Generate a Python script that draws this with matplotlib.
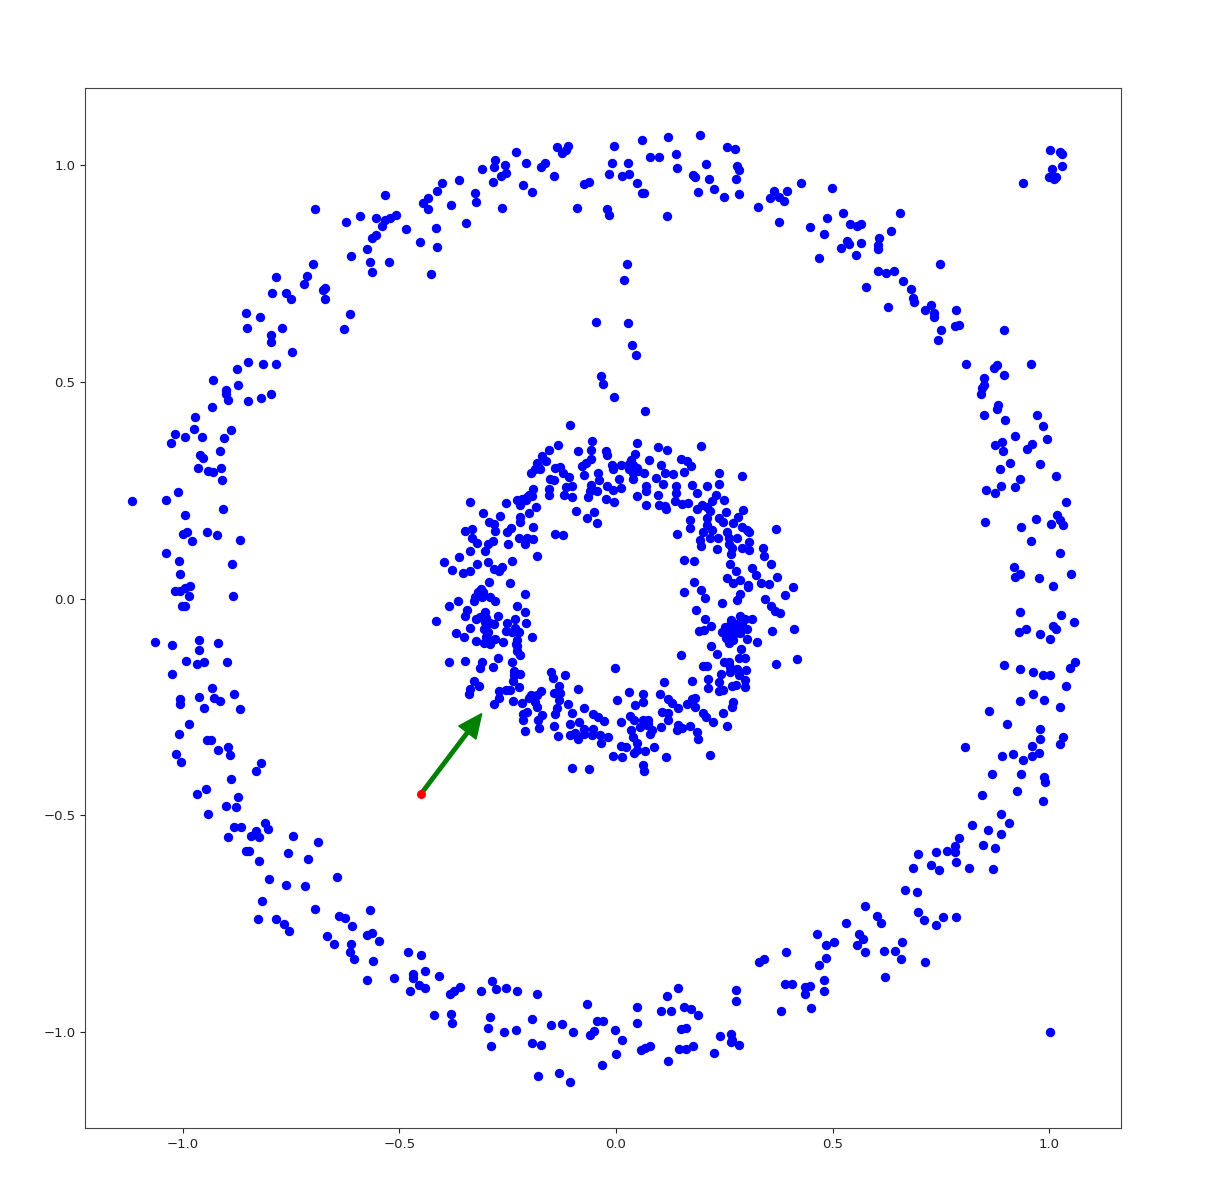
import matplotlib
matplotlib.use("Agg")
import matplotlib.pyplot as plt

outer_upper_left_x = [-1.118,-1.040,-1.011,-0.994,-0.908,-1.000,-0.991,-0.980,-0.944,-0.921,-0.867,-1.038,-1.008,-0.886,-1.007,-0.983,-1.018,-1.007,-0.995,-0.986,-0.885,-1.027,-1.018,-0.995,-0.975,-0.956,-0.971,-0.905,-0.888,-0.914,-0.961,-0.954,-0.964,-0.943,-0.930,-0.911,-0.909,-0.932,-0.895,-0.901,-0.901,-0.850,-0.820,-0.797,-0.930,-0.873,-0.874,-0.850,-0.814,-0.784,-0.747,-0.797,-0.796,-0.770,-0.853,-0.854,-0.823,-0.629,-0.613,-0.794,-0.761,-0.751,-0.786,-0.720,-0.713,-0.700,-0.673,-0.676,-0.672,-0.695,-0.624,-0.590,-0.553,-0.534,-0.533,-0.522,-0.509,-0.540,-0.564,-0.554,-0.576,-0.612,-0.567,-0.564,-0.524,-0.484,-0.453,-0.414,-0.416,-0.427,-0.445,-0.435,-0.433,-0.413,-0.402,-0.382,-0.363,-0.347,-0.325,-0.324,-0.309,-0.285,-0.281,-0.280,-0.264,-0.265,-0.253,-0.257,-0.232,-0.215,-0.207,-0.194,-0.174,-0.163,-0.144,-0.137,-0.125,-0.116,-0.110,-0.090,-0.074,-0.063,-0.021,-0.015,-0.015,-0.009,-0.004,-0.046,-0.035,-0.031,-0.004]
outer_upper_left_y = [0.226,0.227,0.246,0.194,0.208,0.150,0.154,0.132,0.153,0.147,0.136,0.106,0.086,0.079,0.057,0.030,0.017,0.017,0.025,0.007,0.006,0.358,0.379,0.374,0.391,0.374,0.418,0.371,0.388,0.341,0.331,0.325,0.302,0.294,0.293,0.301,0.273,0.442,0.459,0.472,0.482,0.456,0.462,0.471,0.504,0.494,0.529,0.546,0.541,0.541,0.570,0.591,0.608,0.625,0.625,0.658,0.649,0.623,0.657,0.705,0.704,0.692,0.741,0.726,0.744,0.772,0.691,0.712,0.717,0.900,0.869,0.882,0.879,0.932,0.873,0.877,0.886,0.859,0.833,0.838,0.807,0.791,0.777,0.753,0.776,0.853,0.822,0.811,0.856,0.750,0.912,0.925,0.900,0.940,0.959,0.909,0.965,0.867,0.935,0.915,0.992,0.962,0.995,1.013,0.902,0.974,0.982,1.000,1.030,0.955,1.006,0.938,0.995,1.004,0.975,1.042,1.029,1.035,1.045,0.902,0.956,0.961,0.900,0.885,0.980,1.005,1.045,0.639,0.514,0.496,0.466]

outer_upper_right_x = [0.060,0.119,0.194,0.256,0.275,0.028,0.078,0.099,0.139,0.141,0.208,0.015,0.029,0.048,0.059,0.065,0.178,0.182,0.214,0.279,0.283,0.278,0.189,0.227,0.250,0.283,0.117,0.329,0.356,0.365,0.376,0.389,0.395,0.427,0.377,0.498,0.447,0.487,0.481,0.524,0.541,0.557,0.565,0.469,0.520,0.534,0.539,0.565,0.555,0.608,0.605,0.604,0.634,0.655,0.605,0.624,0.641,0.662,0.748,0.578,0.682,0.686,0.688,0.628,0.714,0.728,0.734,0.734,0.786,0.782,0.792,0.751,0.744,0.896,0.808,0.959,0.873,0.879,0.896,0.850,0.850,0.845,0.842,0.882,0.879,0.850,0.898,0.971,0.986,0.921,0.996,0.875,0.892,0.894,0.948,0.960,0.909,0.980,0.886,0.932,1.016,0.890,0.922,0.855,0.876,1.040,0.852,0.969,0.936,1.019,1.026,1.031,1.004,0.959,1.026,0.920,0.933,0.921,0.976,1.050,1.009,1.003,1.025,1.030,1.029,1.006,1.000,1.011,1.017,0.939,0.025,0.018,0.028,0.038,0.047,0.066]
outer_upper_right_y = [1.059,1.064,1.069,1.042,1.038,1.004,1.019,1.018,1.025,0.994,1.003,0.974,0.979,0.958,0.935,0.935,0.977,0.972,0.968,0.999,0.990,0.968,0.938,0.946,0.926,0.933,0.882,0.903,0.924,0.941,0.927,0.918,0.941,0.960,0.869,0.947,0.858,0.879,0.842,0.889,0.865,0.859,0.864,0.785,0.808,0.825,0.818,0.821,0.792,0.833,0.815,0.807,0.849,0.890,0.757,0.751,0.755,0.732,0.771,0.719,0.714,0.694,0.684,0.672,0.667,0.678,0.659,0.650,0.665,0.629,0.631,0.619,0.597,0.619,0.541,0.541,0.533,0.539,0.515,0.509,0.492,0.485,0.472,0.446,0.437,0.424,0.413,0.424,0.398,0.375,0.369,0.354,0.361,0.340,0.346,0.356,0.312,0.311,0.300,0.277,0.282,0.260,0.258,0.250,0.243,0.222,0.178,0.184,0.166,0.193,0.182,0.169,0.173,0.133,0.106,0.073,0.057,0.049,0.048,0.057,0.030,1.036,1.031,1.025,0.999,0.991,0.973,0.967,0.973,0.959,0.773,0.735,0.635,0.586,0.563,0.433]

outer_lower_right_x = [0.932,1.028,1.058,0.946,0.931,0.978,1.010,1.016,1.003,0.896,0.932,0.963,0.987,1.001,1.060,1.049,1.040,0.963,0.932,0.989,1.026,0.862,0.903,0.979,0.980,1.032,1.026,0.960,0.806,0.976,0.960,0.917,0.892,0.939,0.868,0.936,0.989,0.990,0.927,0.846,0.985,0.888,0.907,0.823,0.858,0.889,0.793,0.848,0.876,0.783,0.783,0.764,0.739,0.698,0.784,0.727,0.745,0.685,0.815,0.871,0.667,0.695,0.574,0.698,0.756,0.785,0.710,0.739,0.603,0.611,0.530,0.465,0.560,0.571,0.504,0.484,0.556,0.661,0.618,0.645,0.576,0.658,0.714,0.484,0.468,0.620,0.393,0.342,0.330,0.390,0.406,0.481,0.481,0.436,0.448,0.436,0.450,0.382,0.277,0.277,0.143,0.118,0.049,0.103,0.126,0.156,0.173,0.189,0.048,-0.002,0.149,0.161,0.240,0.265,0.267,0.266,0.285,0.015,0.058,0.066,0.078,0.146,0.162,0.178,0.000,0.120,0.226,1.001]
outer_lower_right_y = [-0.030,-0.037,-0.053,-0.070,-0.078,-0.081,-0.063,-0.070,-0.094,-0.152,-0.162,-0.170,-0.177,-0.177,-0.147,-0.160,-0.202,-0.221,-0.236,-0.234,-0.249,-0.258,-0.290,-0.300,-0.323,-0.320,-0.336,-0.340,-0.343,-0.356,-0.364,-0.358,-0.363,-0.373,-0.405,-0.405,-0.411,-0.424,-0.443,-0.454,-0.466,-0.496,-0.518,-0.523,-0.533,-0.542,-0.551,-0.568,-0.576,-0.570,-0.584,-0.583,-0.584,-0.588,-0.608,-0.614,-0.626,-0.622,-0.622,-0.623,-0.672,-0.676,-0.709,-0.723,-0.734,-0.734,-0.742,-0.753,-0.732,-0.749,-0.747,-0.773,-0.773,-0.784,-0.792,-0.800,-0.799,-0.792,-0.812,-0.812,-0.816,-0.831,-0.839,-0.829,-0.844,-0.873,-0.815,-0.831,-0.837,-0.888,-0.888,-0.879,-0.905,-0.895,-0.894,-0.912,-0.945,-0.951,-0.903,-0.929,-0.899,-0.916,-0.942,-0.952,-0.952,-0.942,-0.946,-0.960,-0.979,-0.995,-0.992,-0.991,-1.009,-1.005,-1.017,-1.023,-1.030,-1.019,-1.042,-1.036,-1.031,-1.039,-1.038,-1.031,-1.050,-1.066,-1.049,-1.000]

outer_lower_left_x = [-1.001,-0.994,-1.064,-1.024,-0.963,-0.920,-0.963,-0.992,-0.968,-0.951,-0.898,-1.024,-0.933,-0.881,-1.007,-1.007,-0.963,-0.929,-0.915,-0.952,-0.867,-0.987,-1.009,-0.944,-0.934,-0.896,-0.918,-0.891,-1.015,-1.005,-0.820,-0.832,-0.890,-0.947,-0.968,-0.872,-0.900,-0.877,-0.941,-0.882,-0.866,-0.811,-0.804,-0.832,-0.842,-0.824,-0.895,-0.746,-0.689,-0.855,-0.847,-0.758,-0.710,-0.824,-0.644,-0.802,-0.763,-0.717,-0.817,-0.694,-0.569,-0.639,-0.625,-0.609,-0.826,-0.784,-0.766,-0.754,-0.667,-0.650,-0.574,-0.563,-0.547,-0.611,-0.613,-0.604,-0.561,-0.481,-0.451,-0.574,-0.512,-0.469,-0.469,-0.440,-0.409,-0.454,-0.442,-0.475,-0.360,-0.375,-0.383,-0.312,-0.287,-0.278,-0.254,-0.229,-0.182,-0.421,-0.381,-0.379,-0.292,-0.295,-0.258,-0.230,-0.193,-0.289,-0.194,-0.173,-0.149,-0.124,-0.099,-0.067,-0.044,-0.031,-0.051,-0.060,-0.033,-0.179,-0.132,-0.107]
outer_lower_left_y = [-0.017,-0.017,-0.100,-0.106,-0.095,-0.102,-0.118,-0.144,-0.151,-0.146,-0.145,-0.173,-0.207,-0.220,-0.231,-0.243,-0.226,-0.230,-0.235,-0.252,-0.254,-0.288,-0.311,-0.327,-0.325,-0.343,-0.349,-0.361,-0.358,-0.376,-0.380,-0.398,-0.417,-0.440,-0.450,-0.457,-0.478,-0.480,-0.496,-0.526,-0.526,-0.517,-0.531,-0.536,-0.547,-0.550,-0.550,-0.548,-0.561,-0.583,-0.583,-0.586,-0.601,-0.604,-0.643,-0.647,-0.660,-0.663,-0.697,-0.715,-0.719,-0.733,-0.736,-0.755,-0.738,-0.739,-0.750,-0.767,-0.778,-0.796,-0.776,-0.772,-0.790,-0.796,-0.814,-0.831,-0.835,-0.814,-0.822,-0.879,-0.876,-0.865,-0.874,-0.859,-0.870,-0.892,-0.897,-0.905,-0.896,-0.905,-0.912,-0.905,-0.883,-0.900,-0.898,-0.904,-0.913,-0.961,-0.959,-0.979,-0.966,-0.990,-0.999,-0.995,-0.969,-1.033,-1.026,-1.029,-0.984,-0.980,-1.000,-0.936,-0.975,-0.975,-0.997,-1.006,-1.076,-1.101,-1.094,-1.114]

inner_top_x = [-0.107,-0.133,-0.155,-0.088,-0.055,-0.058,-0.024,-0.021,0.048,0.043,0.096,0.117,0.196,-0.171,-0.162,-0.182,-0.187,-0.197,-0.175,-0.141,-0.129,-0.122,-0.108,-0.058,-0.070,-0.078,-0.073,-0.010,-0.008,0.012,0.034,0.029,0.040,0.049,0.040,0.040,0.065,0.077,0.104,0.112,0.131,0.092,0.108,0.150,0.163,0.173,0.158,-0.042,-0.039,0.007,0.012,0.069,0.069,0.049,0.096,0.069,0.099,0.113,0.115,0.139,0.139,0.136,0.152,0.166,0.176,0.188,0.211,0.237,0.237,0.290,0.230,0.221,0.249,0.186,0.198,0.210,0.217,-0.152,-0.142,-0.154,-0.155,-0.115,-0.102,-0.119,-0.102,-0.058,-0.044,-0.060,-0.065,-0.021,-0.008,-0.023,-0.004,-0.093,-0.050,-0.066,-0.045,-0.140,-0.122]
inner_top_y = [0.401,0.355,0.342,0.340,0.363,0.344,0.340,0.331,0.359,0.333,0.350,0.343,0.353,0.329,0.318,0.312,0.300,0.289,0.300,0.301,0.304,0.290,0.280,0.323,0.312,0.306,0.286,0.308,0.299,0.309,0.319,0.300,0.308,0.302,0.290,0.277,0.289,0.319,0.308,0.291,0.287,0.278,0.264,0.323,0.317,0.306,0.292,0.289,0.273,0.276,0.255,0.259,0.249,0.236,0.239,0.217,0.215,0.213,0.206,0.259,0.243,0.225,0.219,0.221,0.262,0.243,0.260,0.291,0.264,0.282,0.240,0.225,0.228,0.207,0.216,0.212,0.202,0.275,0.273,0.254,0.240,0.258,0.260,0.239,0.235,0.262,0.249,0.249,0.235,0.259,0.250,0.231,0.222,0.202,0.201,0.186,0.174,0.150,0.147]

inner_left_x = [-0.191,-0.195,-0.206,-0.218,-0.229,-0.222,-0.185,-0.201,-0.254,-0.336,-0.307,-0.268,-0.293,-0.282,-0.222,-0.222,-0.192,-0.243,-0.252,-0.279,-0.349,-0.333,-0.333,-0.322,-0.285,-0.295,-0.302,-0.337,-0.224,-0.206,-0.192,-0.209,-0.249,-0.182,-0.363,-0.397,-0.379,-0.354,-0.337,-0.322,-0.296,-0.282,-0.271,-0.263,-0.241,-0.294,-0.245,-0.312,-0.318,-0.326,-0.327,-0.306,-0.291,-0.279,-0.365,-0.386,-0.209,-0.228,-0.211,-0.343,-0.348,-0.303,-0.314,-0.323,-0.272,-0.416,-0.233,-0.207,-0.302,-0.292,-0.282,-0.252,-0.336,-0.305,-0.295,-0.254,-0.233,-0.223,-0.370,-0.350,-0.299,-0.279,-0.193,-0.323,-0.305,-0.291,-0.262,-0.229,-0.229,-0.229,-0.222,-0.386,-0.348,-0.310,-0.315,-0.272,-0.285,-0.240,-0.235,-0.222,-0.235,-0.237,-0.223,-0.327,-0.316,-0.336,-0.339,-0.254,-0.245,-0.270,-0.269,-0.281,-0.238]
inner_left_y = [0.252,0.237,0.235,0.231,0.227,0.216,0.211,0.197,0.221,0.224,0.197,0.191,0.177,0.173,0.189,0.177,0.165,0.162,0.153,0.156,0.155,0.160,0.139,0.129,0.133,0.126,0.110,0.110,0.140,0.141,0.138,0.125,0.127,0.099,0.095,0.084,0.066,0.060,0.063,0.080,0.085,0.069,0.065,0.072,0.088,0.039,0.037,0.023,0.016,0.004,-0.005,0.016,0.003,-0.005,-0.006,-0.016,0.010,-0.017,-0.030,-0.027,-0.039,-0.031,-0.042,-0.048,-0.040,-0.052,-0.046,-0.056,-0.053,-0.056,-0.059,-0.057,-0.067,-0.071,-0.076,-0.074,-0.067,-0.078,-0.080,-0.088,-0.088,-0.092,-0.089,-0.097,-0.103,-0.104,-0.101,-0.096,-0.110,-0.120,-0.129,-0.147,-0.143,-0.146,-0.161,-0.137,-0.157,-0.147,-0.166,-0.173,-0.176,-0.190,-0.203,-0.189,-0.202,-0.209,-0.219,-0.210,-0.211,-0.214,-0.228,-0.243,-0.236]

inner_bottom_x = [-0.150,-0.145,-0.117,-0.132,-0.142,-0.129,-0.131,-0.087,-0.173,-0.183,-0.196,-0.202,-0.218,-0.187,-0.206,-0.182,-0.215,-0.170,-0.214,-0.179,-0.178,-0.209,-0.137,-0.140,-0.110,-0.101,-0.075,-0.143,-0.106,-0.133,-0.106,-0.095,-0.085,-0.075,-0.087,-0.074,-0.052,-0.055,-0.037,-0.019,-0.035,-0.052,-0.041,-0.028,0.012,0.002,-0.002,0.030,0.062,0.063,0.045,0.032,0.042,0.034,0.040,0.048,0.048,0.042,0.012,0.022,-0.008,0.014,0.068,0.088,0.116,0.062,0.064,-0.101,-0.062,0.216,0.063,0.075,0.071,0.083,0.079,0.103,0.102,0.110,0.121,0.130,0.106,0.119,0.121,0.144,0.143,0.140,0.152,0.171,0.188,0.189,0.163,0.175,0.183,0.183,0.200,0.208,0.223,0.257,0.248,0.267,0.269,0.176]
inner_bottom_y = [-0.169,-0.183,-0.175,-0.201,-0.217,-0.217,-0.233,-0.209,-0.213,-0.223,-0.223,-0.230,-0.240,-0.238,-0.261,-0.250,-0.265,-0.269,-0.279,-0.280,-0.298,-0.306,-0.253,-0.265,-0.242,-0.264,-0.253,-0.293,-0.288,-0.316,-0.315,-0.310,-0.284,-0.300,-0.324,-0.311,-0.300,-0.315,-0.315,-0.319,-0.334,-0.265,-0.273,-0.282,-0.284,-0.233,-0.161,-0.216,-0.220,-0.238,-0.246,-0.271,-0.279,-0.303,-0.319,-0.334,-0.350,-0.357,-0.340,-0.343,-0.363,-0.365,-0.351,-0.343,-0.366,-0.383,-0.397,-0.390,-0.392,-0.360,-0.280,-0.280,-0.292,-0.303,-0.311,-0.296,-0.221,-0.193,-0.232,-0.240,-0.261,-0.280,-0.263,-0.253,-0.292,-0.302,-0.298,-0.294,-0.307,-0.323,-0.242,-0.232,-0.229,-0.251,-0.263,-0.273,-0.284,-0.293,-0.263,-0.250,-0.238,-0.190]

inner_right_x = [0.237,0.248,0.267,0.277,0.298,0.298,0.213,0.212,0.237,0.243,0.202,0.209,0.250,0.260,0.263,0.263,0.279,0.300,0.283,0.150,0.233,0.220,0.289,0.283,0.298,0.370,0.417,0.325,0.260,0.271,0.244,0.260,0.275,0.271,0.286,0.302,0.302,0.192,0.204,0.220,0.206,0.266,0.286,0.298,0.315,0.360,0.411,0.244,0.185,0.206,0.196,0.156,0.179,0.279,0.287,0.345,0.357,0.368,0.378,0.390,0.408,0.354,0.334,0.371,0.305,0.305,0.287,0.271,0.256,0.264,0.277,0.314,0.323,0.357,0.342,0.339,0.156,0.179,0.370,0.306,0.306,0.290,0.302,0.290,0.307,0.281,0.269,0.293,0.254,0.238,0.246,0.209,0.209,0.172,0.172,0.202,0.221,0.193,0.196,0.217,0.235,0.233,0.256,0.260,0.279,0.260,0.267,0.266]
inner_right_y = [-0.213,-0.211,-0.201,-0.198,-0.188,-0.203,-0.186,-0.206,-0.192,-0.173,-0.155,-0.155,-0.146,-0.146,-0.157,-0.169,-0.163,-0.165,-0.175,-0.130,-0.128,-0.110,-0.117,-0.136,-0.136,-0.151,-0.139,-0.101,-0.103,-0.096,-0.077,-0.073,-0.069,-0.084,-0.080,-0.069,-0.092,-0.075,-0.073,-0.063,-0.048,-0.050,-0.040,-0.046,-0.047,-0.074,-0.070,-0.011,-0.027,0.001,0.020,0.016,0.039,-0.003,0.010,-0.001,-0.016,-0.028,-0.032,0.008,0.027,0.033,0.037,0.050,0.031,0.026,0.043,0.037,0.048,0.080,0.064,0.070,0.054,0.081,0.099,0.116,0.090,0.086,0.161,0.113,0.131,0.117,0.158,0.166,0.154,0.189,0.175,0.204,0.199,0.185,0.176,0.185,0.170,0.181,0.163,0.154,0.158,0.136,0.121,0.139,0.139,0.114,0.154,0.139,0.141,0.127,0.116,0.104]

inner_dense_x = [-0.318,-0.300,-0.298,-0.288,-0.240,-0.232,0.252,0.280,0.255,0.292,0.030,0.050,-0.180,-0.208,-0.200,-0.310,-0.300,0.268,0.278,0.262,0.056,0.075,-0.190,0.140]
inner_dense_y = [0.010,-0.062,-0.082,-0.098,-0.078,-0.105,-0.066,-0.078,-0.090,-0.060,0.310,0.295,0.305,0.228,0.240,0.005,-0.045,-0.086,-0.058,-0.064,-0.295,-0.288,-0.232,0.150]

query_x = [-0.45]
query_y = [-0.45]
arrow_tip_x = -0.310
arrow_tip_y = -0.265

xs = (outer_upper_left_x + outer_upper_right_x + outer_lower_right_x + outer_lower_left_x
      + inner_top_x + inner_left_x + inner_bottom_x + inner_right_x + inner_dense_x)
ys = (outer_upper_left_y + outer_upper_right_y + outer_lower_right_y + outer_lower_left_y
      + inner_top_y + inner_left_y + inner_bottom_y + inner_right_y + inner_dense_y)

W, H = 1213, 1202
fig = plt.figure(figsize=(W / 100, H / 100), dpi=100)
ax = fig.add_axes([85 / W, 1 - 1128 / H, (1121 - 85) / W, (1128 - 88) / H])
ax.scatter(xs, ys, s=33, c="blue", zorder=2)
ax.arrow(query_x[0], query_y[0], arrow_tip_x - query_x[0], arrow_tip_y - query_y[0],
         width=0.008, head_width=0.05, head_length=0.055, length_includes_head=True,
         color="green", zorder=3)
ax.scatter(query_x, query_y, s=30, c="red", zorder=4)
ax.set_xlim(-1.226, 1.166)
ax.set_ylim(-1.221, 1.178)
ax.set_xticks([-1.0, -0.5, 0.0, 0.5, 1.0])
ax.set_yticks([-1.0, -0.5, 0.0, 0.5, 1.0])
ax.tick_params(labelsize=9.5, colors="#222222")
for s in ax.spines.values():
    s.set_color("#444444")
fig.savefig("out.png", dpi=100)
